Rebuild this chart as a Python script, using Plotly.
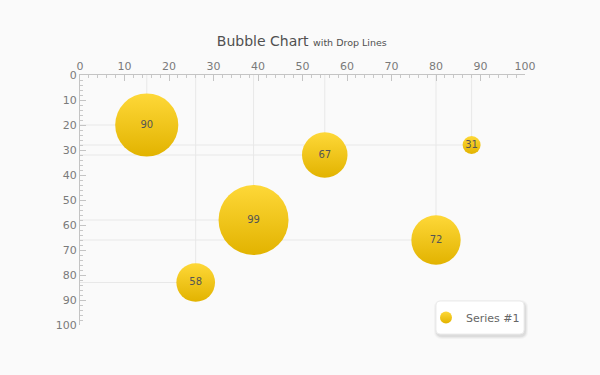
import plotly.graph_objects as go

x_vals = [15, 26, 39, 55, 80, 88]
y_vals = [20, 83, 58, 32, 66, 28]
values = [90, 58, 99, 67, 72, 31]
series_name = "Series #1"

x_ticks = list(range(0, 101, 10))
y_ticks = list(range(0, 101, 10))

vmin, vmax = min(values), max(values)
sizes = [18 + (v - vmin) / (vmax - vmin) * 52 for v in values]

# drop lines
lx, ly = [], []
for xv, yv in zip(x_vals, y_vals):
    lx += [xv, xv, None, xv, 0, None]
    ly += [yv, 0, None, yv, yv, None]

fig = go.Figure()
fig.add_trace(go.Scatter(x=lx, y=ly, mode="lines", line=dict(color="#e8e8e8", width=1),
                         hoverinfo="skip", showlegend=False))
fig.add_trace(go.Scatter(
    x=x_vals, y=y_vals, mode="markers+text", name=series_name,
    text=[str(v) for v in values], textposition="middle center",
    textfont=dict(family="DejaVu Sans", size=10, color="#555555"),
    marker=dict(size=sizes, sizemode="diameter", color="#fed838",
                gradient=dict(type="vertical", color="#e2b300"),
                line=dict(width=0), opacity=1),
))

axis_common = dict(
    showgrid=False, zeroline=False, showline=True, linecolor="#c4c4c4", linewidth=1,
    ticks="inside", ticklen=6, tickcolor="#c4c4c4", tickwidth=1,
    tickfont=dict(family="DejaVu Sans", size=11, color="#7a7a7a"),
    minor=dict(dtick=2, ticks="inside", ticklen=3, tickcolor="#c8c8c8", tickwidth=1, showgrid=False),
    range=[0, 100],
)
fig.update_xaxes(**axis_common, side="top", tickvals=x_ticks, ticktext=[str(t) for t in x_ticks])
fig.update_yaxes(**axis_common, tickvals=y_ticks, ticktext=[str(t) for t in y_ticks])
fig.update_yaxes(range=[100, 0])

# legend box (rounded, with soft shadow), paper coords for pixel box
PL, PR, PT, PB = 80, 525, 75, 325
def px(v): return (v - PL) / (PR - PL)
def py(v): return (PB - v) / (PB - PT)
def rrect(x0, y0, x1, y1, r):
    return (f"M {px(x0+r)},{py(y0)} L {px(x1-r)},{py(y0)} Q {px(x1)},{py(y0)} {px(x1)},{py(y0+r)} "
            f"L {px(x1)},{py(y1-r)} Q {px(x1)},{py(y1)} {px(x1-r)},{py(y1)} "
            f"L {px(x0+r)},{py(y1)} Q {px(x0)},{py(y1)} {px(x0)},{py(y1-r)} "
            f"L {px(x0)},{py(y0+r)} Q {px(x0)},{py(y0)} {px(x0+r)},{py(y0)} Z")
shapes = []
for i, a in enumerate([0.03, 0.04, 0.05]):
    d = 3 - i
    shapes.append(dict(type="path", xref="paper", yref="paper",
                       path=rrect(436 - d + 1, 301 - d + 2, 524 + d + 1, 334 + d + 2, 5 + d),
                       fillcolor=f"rgba(0,0,0,{a})", line=dict(width=0), layer="above"))
shapes.append(dict(type="path", xref="paper", yref="paper", path=rrect(436, 301, 524, 334, 4),
                   fillcolor="#ffffff", line=dict(color="#ececec", width=1), layer="above"))

fig.update_layout(
    width=600, height=375,
    margin=dict(l=80, r=75, t=75, b=50),
    paper_bgcolor="#fafafa", plot_bgcolor="#fafafa",
    title=dict(text="Bubble Chart <span style='font-size:9.5px'>with Drop Lines</span>",
               x=0.503, xanchor="center", y=0.89, yanchor="middle",
               font=dict(family="DejaVu Sans", size=14, color="#505050")),
    legend=dict(x=px(426), y=py(317.5), xanchor="left", yanchor="middle",
                bgcolor="rgba(0,0,0,0)", borderwidth=0,
                font=dict(family="DejaVu Sans", size=11, color="#666666"),
                itemsizing="constant"),
    showlegend=True,
    shapes=shapes,
)
fig.write_html("out.html", config={"displayModeBar": False},
               post_script="document.body.style.margin='0';document.body.style.background='#fafafa';")
